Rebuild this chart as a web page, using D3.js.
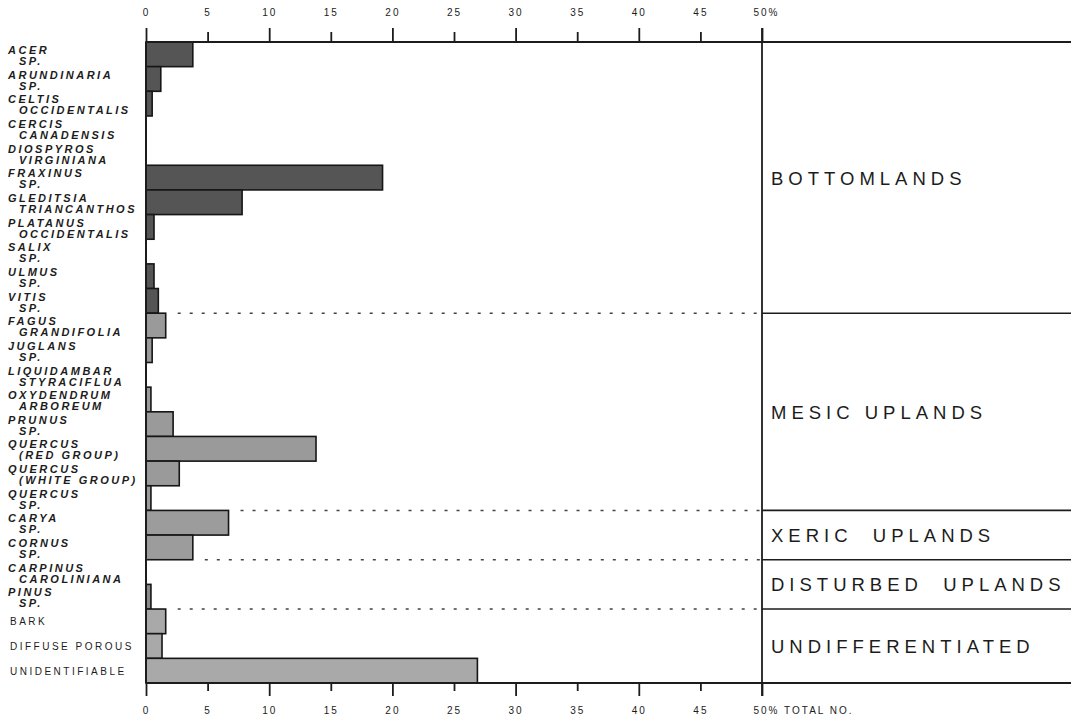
<!DOCTYPE html>
<html lang="en">
<head>
<meta charset="UTF-8">
<title>Charcoal taxa by habitat</title>
<script src="https://d3js.org/d3.v7.min.js"></script>
<style>
    body { margin: 0; background: #fff; }
    svg { display: block; }
    .taxon { font-family: "Liberation Sans", Arial, sans-serif; font-size: 11px; font-weight: bold; font-style: italic; letter-spacing: 2.5px; fill: #1c1c1c; }
    .plain { font-family: "Liberation Sans", Arial, sans-serif; font-size: 10px; letter-spacing: 2.5px; fill: #1c1c1c; }
    .tick text { font-family: "Liberation Sans", Arial, sans-serif; font-size: 10px; letter-spacing: 2px; fill: #1c1c1c; }
    .zone { font-family: "Liberation Sans", Arial, sans-serif; font-size: 18.5px; letter-spacing: 5px; fill: #1c1c1c; white-space: pre; }
</style>
</head>
<body>
<script>
// taxa, two label lines each (second line empty for single-line labels)
const genus = ["ACER", "ARUNDINARIA", "CELTIS", "CERCIS", "DIOSPYROS", "FRAXINUS", "GLEDITSIA", "PLATANUS",
    "SALIX", "ULMUS", "VITIS", "FAGUS", "JUGLANS", "LIQUIDAMBAR", "OXYDENDRUM", "PRUNUS", "QUERCUS", "QUERCUS",
    "QUERCUS", "CARYA", "CORNUS", "CARPINUS", "PINUS", "BARK", "DIFFUSE POROUS", "UNIDENTIFIABLE"];
const species = ["SP.", "SP.", "OCCIDENTALIS", "CANADENSIS", "VIRGINIANA", "SP.", "TRIANCANTHOS", "OCCIDENTALIS",
    "SP.", "SP.", "SP.", "GRANDIFOLIA", "SP.", "STYRACIFLUA", "ARBOREUM", "SP.", "(RED GROUP)", "(WHITE GROUP)",
    "SP.", "SP.", "SP.", "CAROLINIANA", "SP.", "", "", ""];
// percent of total number
const percent = [3.8, 1.2, 0.5, 0, 0, 19.2, 7.8, 0.65, 0, 0.65, 1.0, 1.6, 0.5, 0, 0.4, 2.2, 13.8, 2.7,
    0.4, 6.7, 3.8, 0, 0.4, 1.6, 1.3, 26.9];
// habitat zones and how many consecutive taxa belong to each
const zones = ["BOTTOMLANDS", "MESIC UPLANDS", "XERIC  UPLANDS", "DISTURBED  UPLANDS", "UNDIFFERENTIATED"];
const zoneRows = [11, 8, 2, 2, 3];
const xTicks = [0, 5, 10, 15, 20, 25, 30, 35, 40, 45, 50];

const zoneFill = ["#555555", "#9a9a9a", "#9c9c9c", "#8a8a8a", "#a9a9a9"];
const W = 1071, H = 719;
const plotTop = 42, plotBottom = 683, plotRight = W;

const svg = d3.select("body").append("svg").attr("width", W).attr("height", H);

const x = d3.scaleLinear().domain([0, 50]).range([146, 762]);
const y = d3.scaleBand().domain(d3.range(genus.length)).range([plotTop, plotBottom]).padding(0);

// zone index for every row
const rowZone = [];
zoneRows.forEach((n, z) => { for (let i = 0; i < n; i++) rowZone.push(z); });
// row index where each zone starts
const starts = [0].concat(Array.from(d3.cumsum(zoneRows)));

// bars
svg.append("g").selectAll("rect").data(percent.map((v, i) => ({ v, i })).filter(d => d.v > 0)).enter().append("rect")
    .attr("x", x(0)).attr("y", d => y(d.i))
    .attr("width", d => x(d.v) - x(0)).attr("height", y.bandwidth())
    .attr("fill", d => zoneFill[rowZone[d.i]])
    .attr("stroke", "#161616").attr("stroke-width", 1.6);

// taxon labels
const lab = svg.append("g");
genus.forEach((g, i) => {
    if (species[i]) {
        lab.append("text").attr("class", "taxon").attr("x", 8).attr("y", y(i) + 12).text(g);
        lab.append("text").attr("class", "taxon").attr("x", 19).attr("y", y(i) + 23).text(species[i]);
    } else {
        lab.append("text").attr("class", "plain").attr("x", 10).attr("y", y(i) + y.bandwidth() / 2 + 4).text(g);
    }
});

// top axis
const axTop = svg.append("g").attr("transform", `translate(0,${plotTop})`)
    .call(d3.axisTop(x).tickValues(xTicks).tickSize(0).tickPadding(26).tickFormat(d => d === 50 ? "50%" : d));
axTop.select(".domain").remove();
axTop.selectAll(".tick line").attr("y2", d => d % 10 === 0 ? -14 : -10).attr("stroke", "#1c1c1c").attr("stroke-width", 1.8);
axTop.selectAll(".tick").filter(d => d === 50).select("text").attr("text-anchor", "start").attr("dx", -9);

// bottom axis
const axBot = svg.append("g").attr("transform", `translate(0,${plotBottom})`)
    .call(d3.axisBottom(x).tickValues(xTicks).tickSize(0).tickPadding(24).tickFormat(d => d === 50 ? "50% TOTAL NO." : d));
axBot.select(".domain").remove();
axBot.selectAll(".tick line").attr("y2", d => d % 10 === 0 ? 13 : 8).attr("stroke", "#1c1c1c").attr("stroke-width", 1.8);
axBot.selectAll(".tick").filter(d => d === 50).select("text").attr("text-anchor", "start").attr("dx", -9);

// frame lines
svg.append("line").attr("x1", x(0)).attr("x2", plotRight).attr("y1", plotTop).attr("y2", plotTop)
    .attr("stroke", "#1c1c1c").attr("stroke-width", 2);
svg.append("line").attr("x1", x(0)).attr("x2", plotRight).attr("y1", plotBottom).attr("y2", plotBottom)
    .attr("stroke", "#1c1c1c").attr("stroke-width", 1.8);
svg.append("line").attr("x1", x(0)).attr("x2", x(0)).attr("y1", plotTop).attr("y2", plotBottom)
    .attr("stroke", "#1c1c1c").attr("stroke-width", 2);
svg.append("line").attr("x1", x(50)).attr("x2", x(50)).attr("y1", plotTop - 14).attr("y2", plotBottom + 13)
    .attr("stroke", "#1c1c1c").attr("stroke-width", 1.8);

// zone boundaries: dotted across the plot, solid on the right
zones.forEach((z, k) => {
    if (k > 0) {
        const r = starts[k];
        const yy = y(r);
        const reach = Math.max(percent[r - 1], percent[r]);
        svg.append("line").attr("x1", x(reach) + 12).attr("x2", x(50)).attr("y1", yy).attr("y2", yy)
            .attr("stroke", "#444").attr("stroke-width", 1.5).attr("stroke-dasharray", "3,9");
        svg.append("line").attr("x1", x(50)).attr("x2", plotRight).attr("y1", yy).attr("y2", yy)
            .attr("stroke", "#1c1c1c").attr("stroke-width", 1.6);
    }
    const y0 = y(starts[k]);
    const y1 = starts[k + 1] < genus.length ? y(starts[k + 1]) : plotBottom;
    svg.append("text").attr("class", "zone").attr("x", 771).attr("y", (y0 + y1) / 2 + 7).text(z);
});
</script>
</body>
</html>
